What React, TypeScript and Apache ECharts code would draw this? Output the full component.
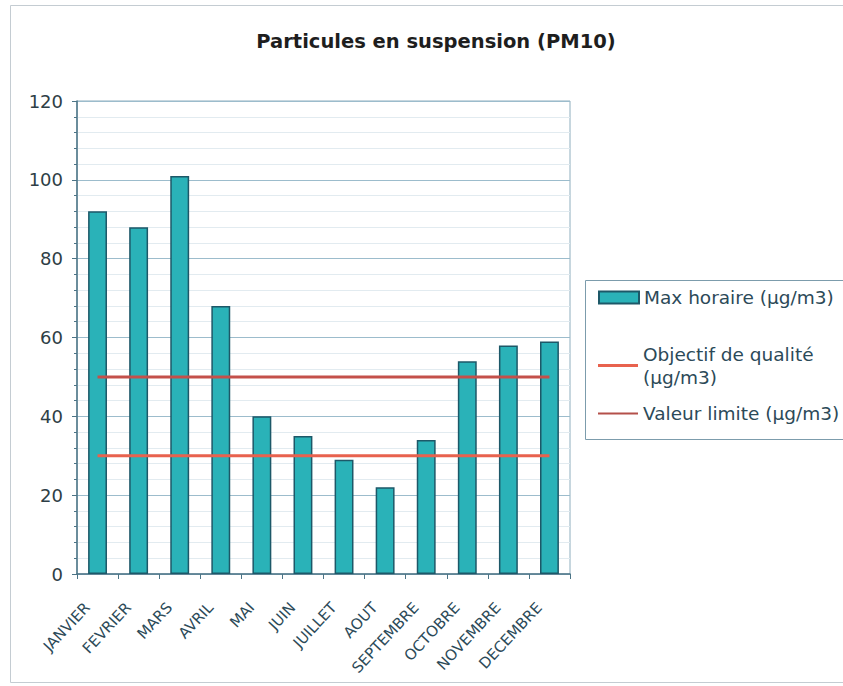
import React, { useEffect, useRef } from "react";
import * as echarts from "echarts";

const months = ["JANVIER", "FEVRIER", "MARS", "AVRIL", "MAI", "JUIN", "JUILLET", "AOUT", "SEPTEMBRE", "OCTOBRE", "NOVEMBRE", "DECEMBRE"];
const maxHoraire = [92, 88, 101, 68, 40, 35, 29, 22, 34, 54, 58, 59];
const objectifQualite = [30, 30, 30, 30, 30, 30, 30, 30, 30, 30, 30, 30];
const valeurLimite = [50, 50, 50, 50, 50, 50, 50, 50, 50, 50, 50, 50];
const yTicks = { min: 0, max: 120, interval: 20 };

const S1 = "Max horaire (µg/m3)";
const S2 = "Objectif de qualité (µg/m3)";
const S3 = "Valeur limite (µg/m3)";

const FONT = "DejaVu Sans";
const TXT = "#2c4a58";

export default function App() {
  const ref = useRef<HTMLDivElement>(null);
  useEffect(() => {
    if (!ref.current) return;
    const chart = echarts.init(ref.current, null, { renderer: "svg" });
    chart.setOption({
      animation: false,
      backgroundColor: "#ffffff",
      textStyle: { fontFamily: FONT },
      title: {
        text: "Particules en suspension (PM10)",
        left: 431,
        textAlign: "center",
        top: 26,
        textStyle: { fontFamily: FONT, fontSize: 19.5, fontWeight: "bold", color: "#1e1e1e" },
      },
      graphic: [
        { type: "rect", shape: { x: 10.5, y: 5.5, width: 850, height: 677 }, style: { fill: "none", stroke: "#c4ccd2", lineWidth: 1 }, silent: true },
        { type: "rect", shape: { x: 585.5, y: 280.5, width: 270, height: 159 }, style: { fill: "none", stroke: "#7c9cac", lineWidth: 1 }, silent: true },
      ],
      legend: [
        {
          data: [S1], left: 593, top: 283, orient: "vertical",
          itemWidth: 40, itemHeight: 12, icon: "rect",
          textStyle: { fontFamily: FONT, fontSize: 18.5, color: TXT },
        },
        {
          data: [S2], left: 593, top: 326, orient: "vertical",
          itemWidth: 40, itemHeight: 3, icon: "rect",
          formatter: () => "Objectif de qualité\n(µg/m3)",
          textStyle: { fontFamily: FONT, fontSize: 18.5, color: TXT, lineHeight: 23, padding: [23, 0, 0, 0] },
        },
        {
          data: [S3], left: 593, top: 399, orient: "vertical",
          itemWidth: 40, itemHeight: 2, icon: "rect",
          textStyle: { fontFamily: FONT, fontSize: 18.5, color: TXT },
        },
      ],
      grid: { left: 77, top: 101, width: 493, height: 473, containLabel: false, show: true, borderColor: "#8eaebe", borderWidth: 1, backgroundColor: "#ffffff" },
      xAxis: {
        type: "category",
        data: months,
        axisLine: { lineStyle: { color: "#4c7486", width: 1.5 } },
        axisTick: { show: true, length: 5, lineStyle: { color: "#4c7486" } },
        axisLabel: { rotate: 47, margin: 20, padding: [0, 15, 0, 0], fontFamily: FONT, fontSize: 15, color: TXT },
        splitLine: { show: false },
      },
      yAxis: {
        type: "value",
        min: yTicks.min, max: yTicks.max, interval: yTicks.interval,
        axisLine: { show: true, lineStyle: { color: "#4c7486", width: 1.5 } },
        axisTick: { show: true, length: 5, lineStyle: { color: "#4c7486" } },
        minorTick: { show: true, splitNumber: 5, length: 3, lineStyle: { color: "#4c7486" } },
        axisLabel: { margin: 14, fontFamily: FONT, fontSize: 18, color: "#2e3e46" },
        splitLine: { show: true, lineStyle: { color: "#9cbccc", width: 1 } },
        minorSplitLine: { show: true, lineStyle: { color: "#e2ebf0", width: 1 } },
      },
      series: [
        {
          name: S1, type: "bar", data: maxHoraire, barWidth: "46%",
          color: "#2ab2b8",
          itemStyle: { color: "#2ab2b8", borderColor: "#1d5868", borderWidth: 1.5 },
          z: 2,
        },
        {
          name: S2, type: "line", data: objectifQualite, symbol: "none",
          color: "#e8624e",
          lineStyle: { color: "#e8624e", width: 3 },
          z: 3,
        },
        {
          name: S3, type: "line", data: valeurLimite, symbol: "none",
          color: "#b4504a",
          lineStyle: { color: "#c4504a", width: 3 },
          z: 3,
        },
      ],
    });
    return () => chart.dispose();
  }, []);
  return <div ref={ref} style={{ position: "fixed", left: 0, top: 0, width: 843, height: 686 }} />;
}
